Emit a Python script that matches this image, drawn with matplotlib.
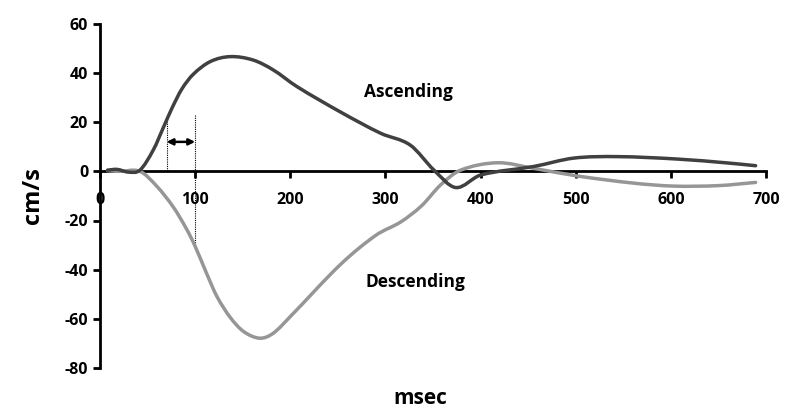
import numpy as np
import matplotlib
matplotlib.use("Agg")
import matplotlib.pyplot as plt
from matplotlib.path import Path
from matplotlib.patches import PathPatch

plt.rcParams['font.family'] = ['Open Sans', 'DejaVu Sans']
plt.rcParams['axes.unicode_minus'] = False

# data
asc_x = [8, 18, 30, 42, 56, 67, 76, 86, 98, 116, 137, 161, 182, 207, 253, 295,
         326, 351, 374, 400, 456, 498, 544, 607, 660, 689]
asc_y = [0.5, 0.8, -0.3, 0.5, 8.7, 18.2, 26, 33.5, 39.5, 44.7, 46.7, 45.3,
         41.3, 34.5, 24.1, 15.5, 10.7, 0.5, -6.6, -1.5, 2, 5.4, 6, 5, 3.4, 2.3]

desc_x = [8, 20, 42, 60, 77, 91, 100, 112, 123, 137, 151, 168, 182, 200, 253,
          290, 316, 338, 358, 379, 418, 456, 502, 561, 603, 650, 689]
desc_y = [0.3, 0, 0, -6.2, -14.5, -23.5, -30.5, -41.5, -51, -59.5, -65.2,
          -67.9, -65.9, -59.1, -37.8, -26, -20.6, -14, -5.5, 0.5, 3.5, 1.2,
          -1.9, -4.8, -6, -5.8, -4.5]

xticks = [0, 100, 200, 300, 400, 500, 600, 700]
yticks = [-80, -60, -40, -20, 0, 20, 40, 60]


def smooth_path(xs, ys):
    # cubic hermite through the points, drawn as bezier segments
    x = np.asarray(xs, float)
    y = np.asarray(ys, float)
    n = len(x)
    m = np.zeros(n)
    m[1:-1] = (y[2:] - y[:-2]) / (x[2:] - x[:-2])
    m[0] = (y[1] - y[0]) / (x[1] - x[0])
    m[-1] = (y[-1] - y[-2]) / (x[-1] - x[-2])
    verts = [(x[0], y[0])]
    codes = [Path.MOVETO]
    for i in range(n - 1):
        dx = x[i + 1] - x[i]
        verts += [(x[i] + dx / 3, y[i] + m[i] * dx / 3),
                  (x[i + 1] - dx / 3, y[i + 1] - m[i + 1] * dx / 3),
                  (x[i + 1], y[i + 1])]
        codes += [Path.CURVE4] * 3
    return Path(verts, codes)


fig = plt.figure(figsize=(7.98, 4.2), dpi=100)
ax = fig.add_axes([0.1253, 0.124, 0.8347, 0.819])

ax.add_patch(PathPatch(smooth_path(desc_x, desc_y), fill=False,
                       edgecolor='#969696', lw=2.5, capstyle='round', zorder=3))
ax.add_patch(PathPatch(smooth_path(asc_x, asc_y), fill=False,
                       edgecolor='#404040', lw=2.5, capstyle='round', zorder=4))

# dotted markers + arrow
ax.plot([70, 70], [0, 22.5], color='black', lw=0.8, ls=(0, (1, 1)))
ax.plot([100, 100], [23, -30], color='black', lw=0.8, ls=(0, (1, 1)))
ax.annotate('', xy=(70, 12), xytext=(100, 12),
            arrowprops=dict(arrowstyle='<|-|>', color='black', lw=1.8,
                            mutation_scale=9, shrinkA=0, shrinkB=0))

ax.text(277, 32.5, 'Ascending', fontsize=12.5, fontweight='bold', va='center')
ax.text(279, -45, 'Descending', fontsize=12.5, fontweight='bold', va='center')

ax.set_xlim(0, 700)
ax.set_ylim(-80, 60)
ax.set_xticks(xticks)
ax.set_yticks(yticks)
ax.spines['top'].set_visible(False)
ax.spines['right'].set_visible(False)
ax.spines['bottom'].set_position(('data', 0))
ax.spines['left'].set_linewidth(2)
ax.spines['bottom'].set_linewidth(2)
ax.tick_params(axis='both', width=2, length=5, labelsize=11.5)
ax.tick_params(axis='x', pad=10)
for lab in ax.get_xticklabels() + ax.get_yticklabels():
    lab.set_fontweight('bold')

ax.set_ylabel('cm/s', fontsize=17, fontweight='bold', labelpad=14)
fig.text(0.527, 0.052, 'msec', fontsize=15, fontweight='bold', ha='center', va='center')

fig.savefig('out.png', dpi=100)
